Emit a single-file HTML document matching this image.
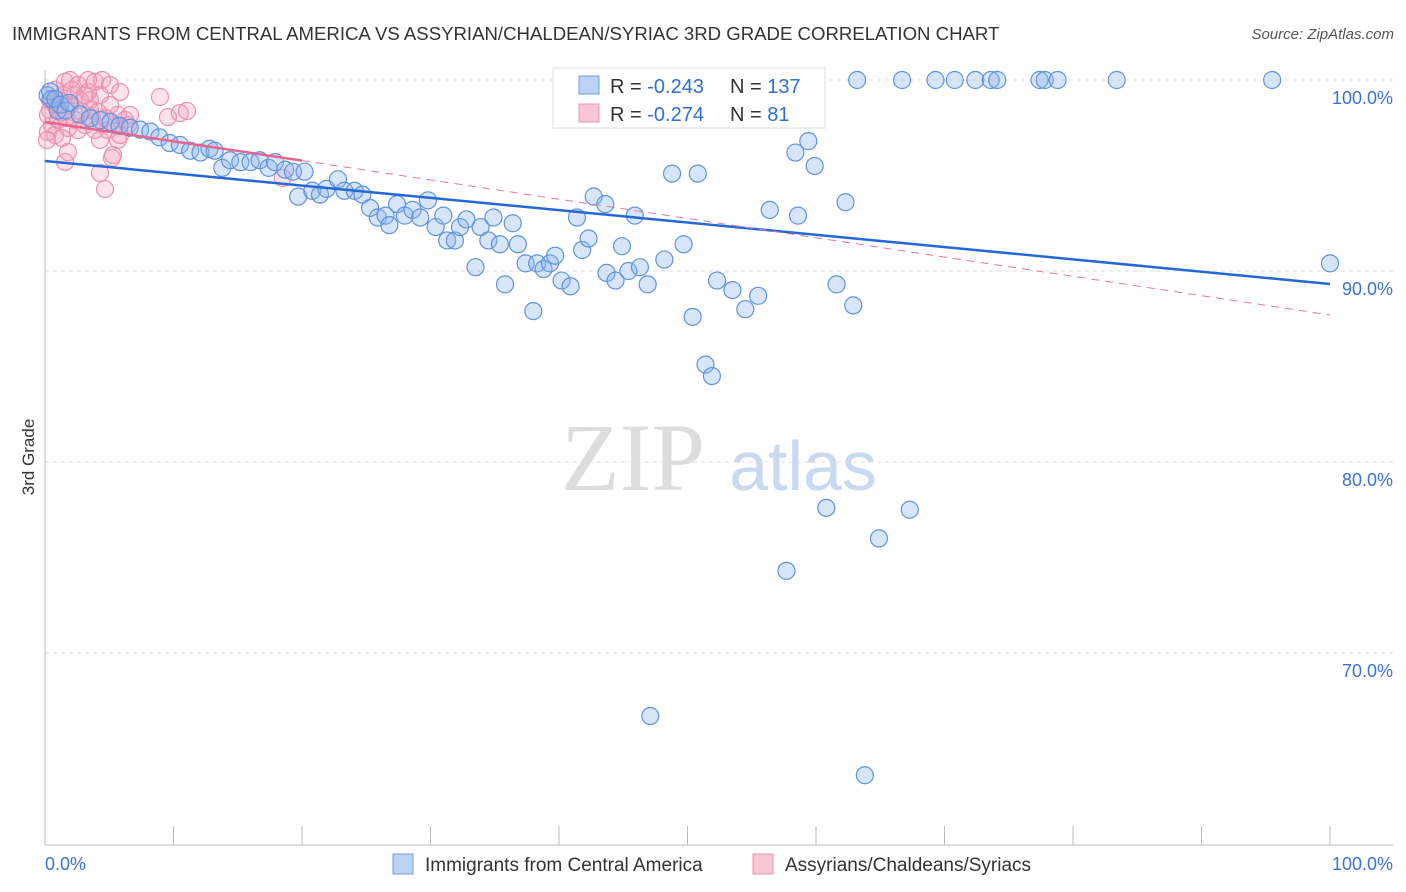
<!DOCTYPE html>
<html><head><meta charset="utf-8">
<style>
body{margin:0;background:#fff;font-family:"Liberation Sans",sans-serif;}
#wrap{position:relative;width:1406px;height:892px;overflow:hidden}
</style></head>
<body>
<div id="wrap">
<svg id="svg" width="1406" height="892" xmlns="http://www.w3.org/2000/svg">
<text x="12" y="40" font-size="18.6" fill="#333">IMMIGRANTS FROM CENTRAL AMERICA VS ASSYRIAN/CHALDEAN/SYRIAC 3RD GRADE CORRELATION CHART</text>
<text x="1394" y="39" font-size="15" fill="#555" font-style="italic" text-anchor="end">Source: ZipAtlas.com</text>
<text transform="translate(34,457) rotate(-90)" font-size="17" fill="#333" text-anchor="middle">3rd Grade</text>
<g>
<text x="633" y="490" font-size="96" font-family="Liberation Serif,serif" fill="#ddd" text-anchor="middle">ZIP</text>
<text x="803" y="490" font-size="70" fill="#c9d9f0" text-anchor="middle">atlas</text>
</g>
<g id="grid"></g>
<g id="axes"></g>
<g id="pts"></g>
<g id="lines"></g>
<g>
<rect x="553" y="68" width="272" height="60" fill="#fff" stroke="#ddd"/>
<rect x="579" y="76" width="20" height="18" fill="#bcd2f5" stroke="#6f9de0"/>
<rect x="579" y="104" width="20" height="18" fill="#f9c6d6" stroke="#ea94b0"/>
<text x="610" y="93" font-size="20" fill="#333">R = <tspan fill="#2f6fd4">-0.243</tspan></text>
<text x="730" y="93" font-size="20" fill="#333">N = <tspan fill="#2f6fd4">137</tspan></text>
<text x="610" y="121" font-size="20" fill="#333">R = <tspan fill="#2f6fd4">-0.274</tspan></text>
<text x="730" y="121" font-size="20" fill="#333">N = <tspan fill="#2f6fd4">  81</tspan></text>
</g>
<g>
<rect x="393" y="854" width="20" height="20" fill="#bcd2f5" stroke="#6f9de0"/>
<text x="425" y="871" font-size="19" fill="#333">Immigrants from Central America</text>
<rect x="753" y="854" width="20" height="20" fill="#f9c6d6" stroke="#ea94b0"/>
<text x="785" y="871" font-size="19" fill="#333">Assyrians/Chaldeans/Syriacs</text>
</g>
</svg>
</div>
<script>
const yTicks=[100,90,80,70];
const yTickLabels=["100.0%","90.0%","80.0%","70.0%"];
const xTickVals=[0,10,20,30,40,50,60,70,80,90,100];
const blueX=[47.5,54.4,63.2,66.7,69.3,70.8,72.4,73.6,74.1,77.4,77.8,78.8,83.4,95.5,100,
0.2,0.5,1.0,0.4,0.8,1.2,1.6,1.9,2.7,3.5,4.3,5.1,5.8,6.6,7.4,8.2,8.9,9.7,10.5,11.3,12.1,12.8,13.2,13.8,14.4,15.2,16.0,16.7,17.4,17.9,18.7,19.3,20.2,19.7,20.8,21.4,21.9,22.8,23.3,24.1,24.7,25.3,25.9,26.5,26.8,27.4,28.0,28.6,29.2,29.8,30.4,31.0,31.3,31.9,32.3,32.8,33.5,33.9,34.5,34.9,35.4,35.8,36.4,36.8,37.4,38.0,38.3,38.8,39.3,39.7,40.2,40.9,41.4,41.8,42.3,42.7,43.6,43.7,44.4,44.9,45.4,45.9,46.3,46.9,48.2,48.8,49.7,50.4,50.8,51.4,51.9,52.3,53.5,54.5,55.5,56.4,58.4,58.6,59.4,59.9,61.6,62.3,62.9,60.8,67.3,64.9,57.7,47.1,63.8];
const blueY=[100,100,100,100,100,100,100,100,100,100,100,100,100,100,90.4,
99.2,99.0,98.4,99.4,99.0,98.7,98.4,98.8,98.2,98.0,97.9,97.8,97.6,97.5,97.4,97.3,97.0,96.7,96.6,96.3,96.2,96.4,96.3,95.4,95.8,95.7,95.7,95.8,95.4,95.7,95.3,95.2,95.2,93.9,94.2,94.0,94.3,94.8,94.2,94.2,94.0,93.3,92.8,92.9,92.4,93.5,92.9,93.2,92.8,93.7,92.3,92.9,91.6,91.6,92.3,92.7,90.2,92.3,91.6,92.8,91.4,89.3,92.5,91.4,90.4,87.9,90.4,90.1,90.4,90.8,89.5,89.2,92.8,91.1,91.7,93.9,93.5,89.9,89.5,91.3,90.0,92.9,90.2,89.3,90.6,95.1,91.4,87.6,95.1,85.1,84.5,89.5,89.0,88.0,88.7,93.2,96.2,92.9,96.8,95.5,89.3,93.6,88.2,77.6,77.5,76.0,74.3,66.7,63.6];
const pinkX=[1.56,1.95,2.57,3.35,3.89,4.44,5.06,5.84,4.28,3.35,2.33,1.17,0.78,0.39,0.23,0.54,0.23,0.78,1.32,1.79,2.33,3.11,3.50,3.89,4.28,4.90,5.45,5.68,5.06,4.67,6.23,6.61,1.56,1.79,4.28,4.67,5.21,5.29,5.68,8.95,9.57,10.5,11.05,18.5,1.17,1.95,2.72,1.01,1.40,3.50,2.57,4.12,0.78,2.10,3.11,0.39,1.63,2.88,3.66,0.16,5.84,6.46];
const pinkY=[99.9,100,99.74,100,99.9,100,99.74,99.37,99.21,99.37,99.21,98.95,98.69,98.43,98.17,97.64,97.28,97.12,96.96,97.49,97.91,97.64,98.43,97.38,96.86,97.38,97.64,98.17,98.69,98.01,97.91,98.17,95.71,96.23,95.13,94.29,95.92,96.07,96.86,99.11,98.06,98.27,98.38,94.87,98.32,98.69,98.95,97.91,99.21,98.95,97.38,98.32,99.48,99.48,99.21,98.95,98.01,98.32,98.01,96.86,97.12,97.64];
const blueFit=[95.76,89.32];
const pinkFit=[97.8,87.7];
const NS="http://www.w3.org/2000/svg";
const X=v=>45+v*12.85, Y=v=>80+(100-v)*19.1;
function mk(t,a,p){const e=document.createElementNS(NS,t);for(const k in a)e.setAttribute(k,a[k]);p.appendChild(e);return e;}
const grid=document.getElementById('grid'),axes=document.getElementById('axes'),pts=document.getElementById('pts'),lines=document.getElementById('lines');
yTicks.forEach((t,i)=>{
 const l=mk('line',{x1:45,x2:1393,y1:Y(t),y2:Y(t),stroke:'#ddd','stroke-dasharray':'4,4'},grid);
 
 
 const tx=mk('text',{x:1393,y:Y(t)+24,'font-size':18,fill:'#3b73d1','text-anchor':'end'},axes);
 tx.textContent=yTickLabels[i];
 
 
});
const ax=mk('line',{x1:45,x2:45,y1:70,y2:845,stroke:'#bbb'},axes);


const bx=mk('line',{x1:45,x2:1393,y1:845,y2:845,stroke:'#bbb'},axes);


xTickVals.forEach(v=>{
 const t=mk('line',{x1:X(v),x2:X(v),y1:826,y2:845,stroke:'#bbb'},axes);
 
 
});
const xl=mk('text',{x:45,y:870,'font-size':18,fill:'#3b73d1'},axes);xl.textContent='0.0%';


const xr=mk('text',{x:1393,y:870,'font-size':18,fill:'#3b73d1','text-anchor':'end'},axes);xr.textContent='100.0%';


pinkX.forEach((v,i)=>{
 const c=mk('circle',{cx:X(v),cy:Y(pinkY[i]),r:8.5,fill:'rgba(245,160,190,0.3)',stroke:'#ec92b1','stroke-width':1.2},pts);
 
 
});
blueX.forEach((v,i)=>{
 const c=mk('circle',{cx:X(v),cy:Y(blueY[i]),r:8.5,fill:'rgba(140,180,238,0.35)',stroke:'#5f93df','stroke-width':1.2},pts);
 
 
});
const bl=mk('line',{x1:X(0),y1:Y(blueFit[0]),x2:X(100),y2:Y(blueFit[1]),stroke:'#2468d6','stroke-width':2.5},lines);


const pf=v=>pinkFit[0]+(pinkFit[1]-pinkFit[0])*v/100;
const pd=mk('line',{x1:X(20),y1:Y(pf(20)),x2:X(100),y2:Y(pf(100)),stroke:'#e9779c','stroke-width':1,'stroke-dasharray':'8,6'},lines);


const ps=mk('line',{x1:X(0),y1:Y(pf(0)),x2:X(20),y2:Y(pf(20)),stroke:'#e9638f','stroke-width':2.5},lines);


</script>
</body></html>
